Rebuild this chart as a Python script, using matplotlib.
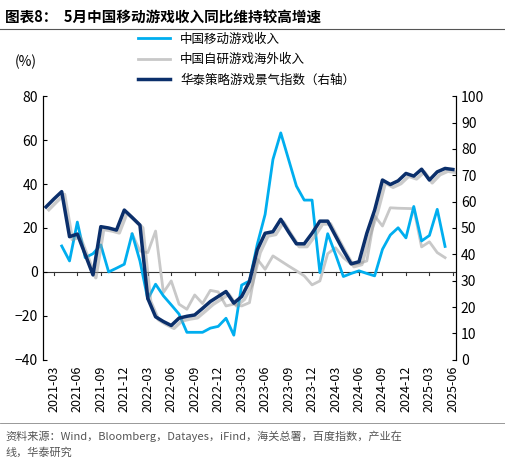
import matplotlib
matplotlib.use("Agg")
import matplotlib.pyplot as plt
import matplotlib.patheffects as pe
import pandas as pd

plt.rcParams["font.family"] = ["Noto Sans CJK SC", "DejaVu Sans"]

months = pd.date_range("2021-02", "2025-06", freq="MS")

# 华泰策略游戏景气指数 (right axis), 2021-02 .. 2025-06
index_vals = [58, 61, 63.8, 46.7, 47.7, 40, 32.2, 50.5, 50, 49.2, 56.8, 54, 51.1,
              23.3, 16.3, 14.5, 13, 15.8, 16.5, 17, 19.5, 22.1, 24, 25.9, 21.5,
              24, 29.7, 41.7, 48, 48.6, 53.3, 48.5, 44, 44, 48, 52.6, 52.6, 47,
              41.5, 36.4, 37.2, 48, 56.8, 68.2, 66.5, 67.9, 70.7, 69.7, 72.3,
              68.2, 71.3, 72.6, 72.2]
# 中国移动游戏收入 yoy, 2021-04 .. 2025-05
mobile_vals = [11.8, 5, 22.7, 6.5, 8.3, 12.3, 0, 1.7, 3.5, 17.4, 5, -12.4, -5.6,
               -10.9, -15, -19.2, -27.5, -27.5, -27.5, -25.6, -24.8, -21.1, -28.8,
               -6, -4.1, 12.6, 26.2, 51.2, 63.3, 51.2, 39.1, 32.7, 32.7, -0.3,
               17.4, 8, -2.1, -0.7, 0.5, -0.7, -1.8, 10.3, 16.8, 20.1, 15.5, 29.8,
               14.1, 16.6, 28.5, 11.6]
# 中国自研游戏海外收入 yoy, 2022-01 .. 2025-05
overseas_vals = [17.4, 9.5, 8.8, 18.6, -9.4, -4.1, -14.7, -17, -10.5, -14.4, -8.4,
                 -9.1, -15.5, -14.7, -15.5, -14, 5.8, 1.2, 7.3, 5, 2.7, 0.5, -1.8,
                 -5.9, -4.1, 8.3, 11, 6.5, 3.5, 3.8, 5, 25.5, 20.9, 29.2, 29,
                 28.9, 28.8, 11.4, 13.7, 8.8, 6.5]

C_LIGHT = "#00AEEF"
C_GREY = "#C8C8C8"
C_DARK = "#0B2F6B"

fig = plt.figure(figsize=(5.05, 4.74), dpi=100)
ax = fig.add_axes([0.085, 0.241, 0.818, 0.556])
ax2 = ax.twinx()

x = list(range(len(months)))
ax.plot(x[2:2 + len(mobile_vals)], mobile_vals, color=C_LIGHT, lw=2.0, zorder=3)
ax.plot(x[11:11 + len(overseas_vals)], overseas_vals, color=C_GREY, lw=2.0, zorder=2)
ax2.plot(x, index_vals, color=C_DARK, lw=2.5,
         path_effects=[pe.SimpleLineShadow(offset=(2, -2), shadow_color="#999999", alpha=0.5),
                       pe.Normal()])

ax.set_ylim(-40, 80)
ax.set_yticks(range(-40, 81, 20))
ax2.set_ylim(0, 100)
ax2.set_yticks(range(0, 101, 10))
ax.set_xlim(-0.4, len(months) - 0.6)
ax.axhline(0, color="#333333", lw=0.8, zorder=1)
ticks = list(range(1, len(months), 3))
ax.set_xticks(ticks)
ax.set_xticklabels([months[i].strftime("%Y-%m") for i in ticks], rotation=90)
ax.tick_params(axis="x", length=0, labelsize=9, pad=4)
ax.tick_params(axis="y", labelsize=10, direction="in", length=3)
ax2.tick_params(axis="y", labelsize=10, direction="in", length=3)
for a in (ax, ax2):
    a.spines["top"].set_visible(False)
    a.spines["bottom"].set_visible(False)
# small tick marks on the zero line
for t in range(len(months)):
    if t % 3 == 1:
        ax.plot([t, t], [0, -1.5], color="#333333", lw=0.8, zorder=1)

fig.text(0.03, 0.86, "(%)", fontsize=10)
fig.legend(handles=[plt.Line2D([], [], color=C_LIGHT, lw=2),
                    plt.Line2D([], [], color=C_GREY, lw=2),
                    plt.Line2D([], [], color=C_DARK, lw=2.5)],
           labels=["中国移动游戏收入", "中国自研游戏海外收入", "华泰策略游戏景气指数（右轴）"],
           loc="upper left", bbox_to_anchor=(0.25, 0.955), frameon=False,
           fontsize=9, handlelength=2.6, labelspacing=0.6)

fig.text(0.01, 0.965, "图表8：  5月中国移动游戏收入同比维持较高增速", fontsize=10.5,
         fontweight="bold", va="center")
fig.add_artist(plt.Line2D([0.0, 1.0], [0.938, 0.938], color="#555555", lw=0.8))
fig.add_artist(plt.Line2D([0.0, 1.0], [0.108, 0.108], color="#888888", lw=0.6))
fig.text(0.01, 0.092, "资料来源：Wind，Bloomberg，Datayes，iFind，海关总署，百度指数，产业在\n线，华泰研究",
         fontsize=8, color="#555555", va="top", linespacing=1.6)

fig.savefig("out.png", dpi=100)
